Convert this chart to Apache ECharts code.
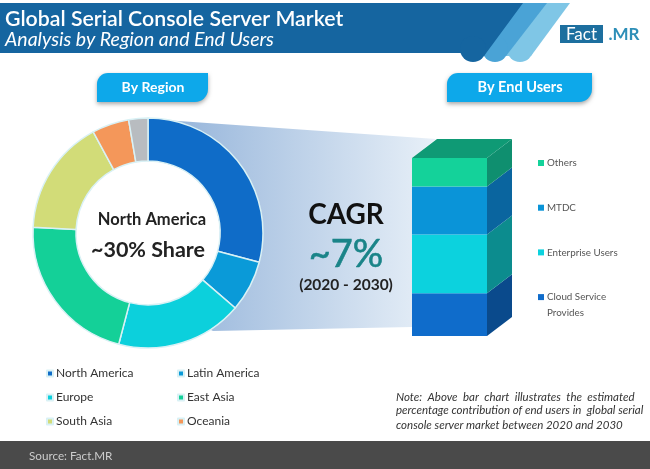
<!DOCTYPE html>
<html><head><meta charset="utf-8">
<style>html,body{margin:0;padding:0;background:#fff}#c{width:650px;height:469px}</style>
<script src="https://cdn.jsdelivr.net/npm/echarts@6/dist/echarts.min.js"></script>
</head><body><div id="c"></div>
<script>
const regionNames = ['North America','Latin America','Europe','East Asia','South Asia','Oceania','Rest of World'];
const regionValues = [29.1,7.2,17.8,21.7,16.3,5.2,2.7];
const regionColors = ['#0f6cc8','#0a9ad8','#0cd0dc','#14d098','#d2dc78','#f4975a','#b8bcc0'];
const userNames = ['Cloud Service Provides','Enterprise Users','MTDC','Others'];
const userValues = [24,33,27,16];
const userFront = ['#0f6ccb','#0cd2de','#0a94d8','#14d29a'];
const userSide = ['#0a4a8c','#0c8c8e','#0a659f','#0f8f6f'];
const legendFont = 'Lato, "Open Sans", sans-serif';
const chart = echarts.init(document.getElementById('c'), null, {renderer:'canvas'});
let acc = 0;
const barSeries = userNames.map((n,i)=>{
  const start = acc; acc += userValues[i]; const end = acc; const last = i===userNames.length-1;
  return {
    type:'custom', name:n, xAxisIndex:0, yAxisIndex:0, z:3, silent:true,
    itemStyle:{color:userFront[i]},
    data:[[0,start,end]],
    encode:{x:0,y:[1,2]},
    renderItem(params,api){
      const w = api.size([1,0])[0];
      const a = api.coord([api.value(0),api.value(1)]);
      const b = api.coord([api.value(0),api.value(2)]);
      const l = a[0]-w/2, r = a[0]+w/2, dx=25, dy=19;
      const kids = [
        {type:'polygon',shape:{points:[[r,a[1]],[r+dx,a[1]-dy],[r+dx,b[1]-dy],[r,b[1]]]},style:{fill:userSide[i]}},
        {type:'rect',shape:{x:l,y:b[1],width:w,height:a[1]-b[1]},style:{fill:userFront[i]}}
      ];
      if(last) kids.push({type:'polygon',shape:{points:[[l,b[1]],[l+dx,b[1]-dy],[r+dx,b[1]-dy],[r,b[1]]]},style:{fill:'#0f9a75'}});
      return {type:'group',children:kids};
    }
  };
});
const txt=(x,y,text,font,fill,extra)=>({type:'text',x,y,z:6,silent:true,style:Object.assign({text,font,fill,textAlign:'center',textVerticalAlign:'middle'},extra||{})});
const stripe=(x2,cx,fill,z)=>[
 {type:'polygon',z,silent:true,shape:{points:[[x2-60,3],[x2,3],[cx+11,56],[cx-20,56]]},style:{fill}},
 {type:'circle',z,silent:true,shape:{cx,cy:49,r:13},style:{fill}}
];
const pill=(x,y,w,h)=>({type:'rect',z:3,silent:true,shape:{x,y,width:w,height:h,r:[11,0,13,0]},style:{fill:'#0da8ea',shadowColor:'rgba(0,0,0,0.35)',shadowBlur:4,shadowOffsetY:2}});
const noteFont='italic 11.5px Lato, sans-serif';
chart.setOption({
  animation:false,
  backgroundColor:'#fff',
  grid:{left:412,top:158,width:75,height:178},
  xAxis:{type:'category',data:['End Users'],show:false},
  yAxis:{type:'value',min:0,max:100,show:false},
  legend:[
    {orient:'vertical',left:41,top:361,itemWidth:6,itemHeight:6,itemGap:9,icon:'rect',selectedMode:false,data:[regionNames[0],regionNames[2],regionNames[4]],textStyle:{fontSize:12,lineHeight:15,color:'#333',fontFamily:legendFont,padding:[0,0,0,-2]}},
    {orient:'vertical',left:172,top:361,itemWidth:6,itemHeight:6,itemGap:9,icon:'rect',selectedMode:false,data:[regionNames[1],regionNames[3],regionNames[5]],textStyle:{fontSize:12,lineHeight:15,color:'#333',fontFamily:legendFont,padding:[0,0,0,-2]}},
    {orient:'vertical',left:533,top:151,itemWidth:6,itemHeight:6,itemGap:30.7,icon:'rect',selectedMode:false,data:[userNames[3],userNames[2],userNames[1],userNames[0]],formatter:n=>n.replace(' Provides',''),textStyle:{fontSize:9.8,lineHeight:14,color:'#555',fontFamily:legendFont,padding:[0,0,0,-2]}}
  ],
  series:[
    {type:'pie',name:'Region',z:4,silent:true,center:[148,233],radius:[72,115],startAngle:90,clockwise:true,label:{show:false},labelLine:{show:false},
     itemStyle:{borderColor:'#d9f1f5',borderWidth:1.5},
     data:regionNames.map((n,i)=>({name:n,value:regionValues[i],itemStyle:{color:regionColors[i]}}))},
    ...barSeries
  ],
  graphic:{elements:[
    {type:'polygon',z:0,silent:true,shape:{points:[[150,119],[436,139],[412,158],[412,327],[213,331],[150,300]]},style:{fill:new echarts.graphic.LinearGradient(0,0,1,0,[{offset:0,color:'#8fb0d8'},{offset:1,color:'#e8f0f8'}])}},
    {type:'circle',z:0,silent:true,shape:{cx:148,cy:233,r:80},style:{fill:'#fff'}},
    ...stripe(570,520,'#7fc6e6',1),
    ...stripe(547,495,'#4aa3d6',2),
    {type:'polygon',z:3,silent:true,shape:{points:[[0,3],[523,3],[484,56],[462,53],[0,53]]},style:{fill:'#1565a0'}},
    {type:'circle',z:3,silent:true,shape:{cx:473,cy:49,r:13},style:{fill:'#1565a0'}},
    txt(5,19,'Global Serial Console Server Market','600 21.3px Lato, sans-serif','#fff',{textAlign:'left'}),
    txt(5,40,'Analysis by Region and End Users','italic 19.5px Lato, sans-serif','#fff',{textAlign:'left'}),
    {type:'rect',z:4,silent:true,shape:{x:560,y:25,width:43,height:18},style:{fill:'#1d6f9f'}},
    txt(581.5,34.5,'Fact','17px Lato, sans-serif','#fff'),
    txt(624,34.5,'.MR','bold 17px Lato, sans-serif','#2e8fb8'),
    pill(97,73,111,29),pill(447,73,145,29),
    txt(153,87,'By Region','bold 14px Lato, sans-serif','#fff'),
    txt(520,87,'By End Users','bold 14.5px Lato, sans-serif','#fff'),
    txt(152,220,'North America','bold 16.5px Lato, sans-serif','#222'),
    txt(148,250,'~30% Share','bold 21.5px Lato, sans-serif','#222'),
    txt(346,215,'CAGR','bold 28px Lato, sans-serif','#111'),
    txt(346,255,'~7%','38px Lato, sans-serif','#1a8488',{stroke:'#1a8488',lineWidth:0.6}),
    txt(346,285,'(2020 - 2030)','bold 15.5px Lato, sans-serif','#222'),
    txt(547,313,'Provides','9.8px Lato, sans-serif','#555',{textAlign:'left'}),
    txt(396,397,'Note:  Above  bar  chart  illustrates  the  estimated',noteFont,'#333',{textAlign:'left'}),
    txt(396,410,'percentage contribution of end users in  global serial',noteFont,'#333',{textAlign:'left'}),
    txt(396,425,'console server market between 2020 and 2030',noteFont,'#333',{textAlign:'left'}),
    {type:'rect',z:3,silent:true,shape:{x:0,y:441,width:650,height:28},style:{fill:'#4a4a4a'}},
    txt(29,456,'Source: Fact.MR','11.7px Lato, sans-serif','#ccc',{textAlign:'left'})
  ]}
});
</script></body></html>
